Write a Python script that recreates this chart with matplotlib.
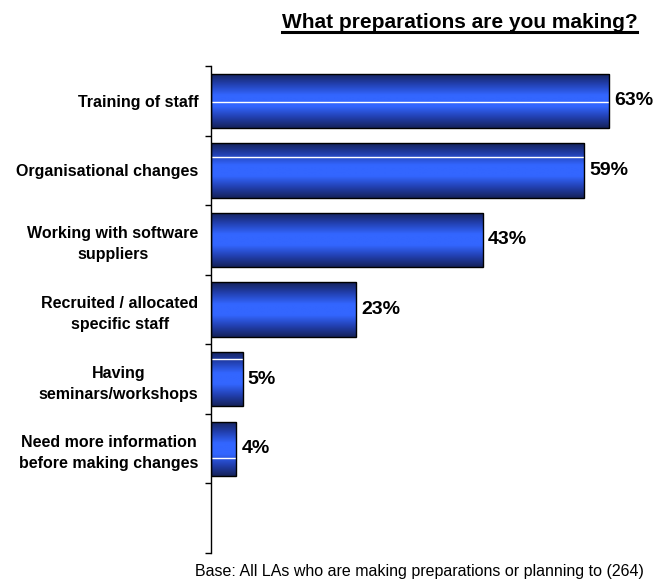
import matplotlib
matplotlib.use("Agg")
import matplotlib.pyplot as plt
import numpy as np
from matplotlib.colors import LinearSegmentedColormap
from matplotlib.lines import Line2D

plt.rcParams['font.family'] = ['Liberation Sans', 'DejaVu Sans']

# data
categories = ["Training of staff",
              "Organisational changes",
              "Working with software\nsuppliers",
              "Recruited / allocated\nspecific staff",
              "Having\nseminars/workshops",
              "Need more information\nbefore making changes"]
values = [63, 59, 43, 23, 5, 4]
value_labels = ["63%", "59%", "43%", "23%", "5%", "4%"]
title = "What preparations are you making?"
footnote = "Base: All LAs who are making preparations or planning to (264)"

# thin white sheen line inside some bars (fraction from bar top, None = no line)
sheen = [0.52, 0.26, None, None, 0.13, 0.68]

fig = plt.figure(figsize=(6.56, 5.79), dpi=100)
ax = fig.add_axes([0.3216, 0.0449, 0.675, 0.841])

n_slots = len(categories) + 1
y = np.arange(len(categories))
bars = ax.barh(y, values, height=0.78, facecolor='none', edgecolor='black',
               linewidth=1.0, zorder=3)

# vertical blue gradient: dark navy at the edges, bright blue in the middle
cmap = LinearSegmentedColormap.from_list(
    "barblue", ["#15225a", "#2240b0", "#3366ff", "#3366ff", "#2240b0", "#15225a"])
grad = np.linspace(0, 1, 256).reshape(-1, 1)

for bar, s in zip(bars, sheen):
    x0, y0 = bar.get_x(), bar.get_y()
    w, h = bar.get_width(), bar.get_height()
    im = ax.imshow(grad, cmap=cmap, aspect='auto', interpolation='bilinear',
                   extent=[x0, x0 + w, y0 + h, y0], zorder=2)
    im.set_clip_path(bar)
    if s is not None:
        ax.plot([x0, x0 + w], [y0 + s * h, y0 + s * h], color='white',
                linewidth=1.0, zorder=2.5, solid_capstyle='butt')

for bar, lab in zip(bars, value_labels):
    ax.text(bar.get_width() + 0.8, bar.get_y() + bar.get_height() / 2, lab,
            ha='left', va='center', fontsize=14, fontweight='bold', zorder=4)

ax.set_xlim(0, 70)
ax.set_ylim(n_slots - 0.5, -0.5)

ax.set_yticks(y)
ax.set_yticklabels(categories, fontsize=11.5, fontweight='bold',
                   multialignment='center', linespacing=1.5)
ax.set_yticks(np.arange(n_slots + 1) - 0.5, minor=True)
ax.tick_params(axis='y', which='major', length=0, pad=9)
ax.tick_params(axis='y', which='minor', length=4, width=1, direction='out')
ax.set_xticks([])

for side in ['top', 'right', 'bottom']:
    ax.spines[side].set_visible(False)
ax.spines['left'].set_linewidth(1.0)

# underlined title
t = fig.text(0.7005, 0.962, title, ha='center', va='center',
             fontsize=15, fontweight='bold')
fig.canvas.draw()
bb = t.get_window_extent().transformed(fig.transFigure.inverted())
fig.add_artist(Line2D([bb.x0, bb.x1], [bb.y0 - 0.001, bb.y0 - 0.001],
                      color='black', linewidth=2.2, transform=fig.transFigure))

fig.text(0.639, 0.013, footnote, ha='center', va='center', fontsize=11.5)

fig.savefig("out.png", dpi=100)
